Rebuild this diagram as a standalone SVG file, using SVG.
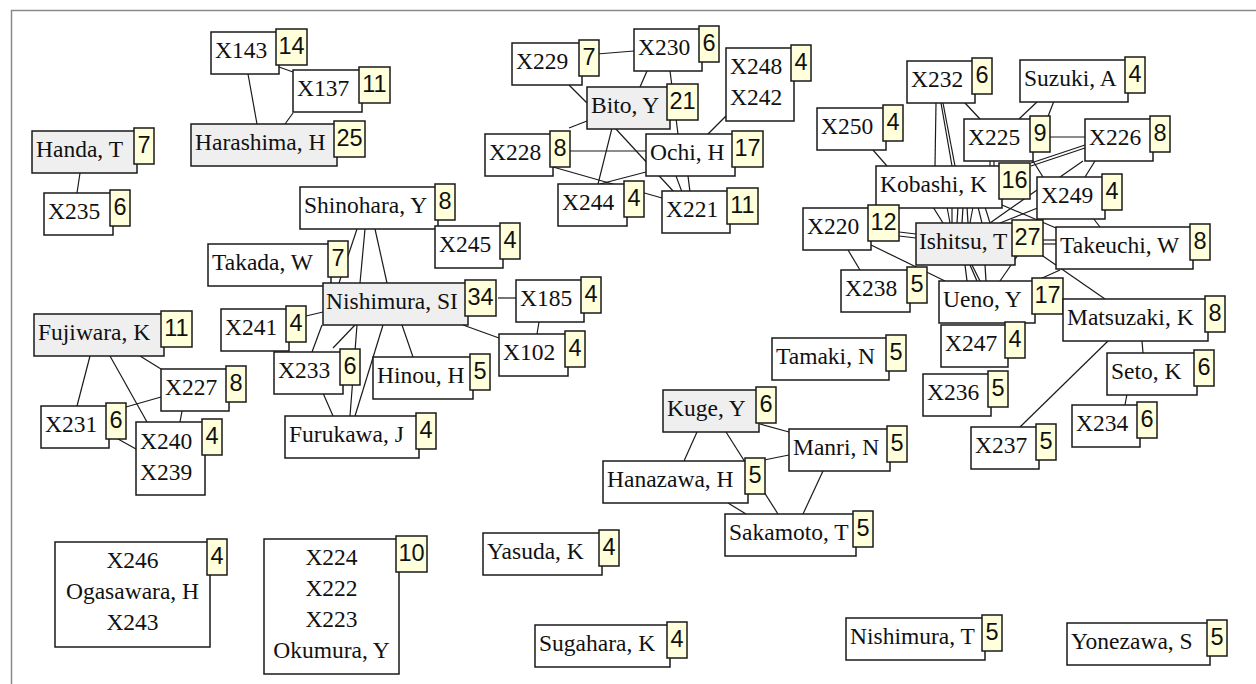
<svg xmlns="http://www.w3.org/2000/svg" width="1256" height="684" viewBox="0 0 1256 684">
<style>
  .box{fill:#ffffff;stroke:#1a1a1a;stroke-width:1.5}
  .seed{fill:#efefef;stroke:#1a1a1a;stroke-width:1.5}
  .badge{fill:#ffffdc;stroke:#1a1a1a;stroke-width:1.5}
  .lbl{font-family:"Liberation Serif","Times New Roman",serif;font-size:23.5px;fill:#111}
  .mid{text-anchor:middle}
  .cnt{font-family:"Liberation Sans",Arial,sans-serif;font-size:23.5px;fill:#111;text-anchor:middle}
  #edges line{stroke:#1a1a1a;stroke-width:1.2}
  .frame{fill:none;stroke:#8a8a8a;stroke-width:1.5}
</style>
<rect width="1256" height="684" fill="#ffffff"/>
<polyline class="frame" points="11.5,684 11.5,10.5 1256,10.5"/>

<g id="edges">
  <!-- Harashima group -->
  <line x1="248" y1="74" x2="257" y2="124"/>
  <line x1="279" y1="67" x2="293" y2="72"/>
  <line x1="293" y1="113" x2="285" y2="124"/>
  <line x1="80" y1="173" x2="77" y2="193"/>
  <!-- Nishimura, SI group -->
  <line x1="357" y1="229" x2="339" y2="283"/>
  <line x1="365" y1="229" x2="360" y2="283"/>
  <line x1="375" y1="229" x2="387" y2="283"/>
  <line x1="306" y1="316" x2="323" y2="312"/>
  <line x1="312" y1="352" x2="322" y2="325"/>
  <line x1="333" y1="348" x2="355" y2="325"/>
  <line x1="357" y1="325" x2="350" y2="416"/>
  <line x1="383" y1="325" x2="355" y2="416"/>
  <line x1="402" y1="325" x2="413" y2="357"/>
  <line x1="463" y1="325" x2="499" y2="338"/>
  <line x1="498" y1="298" x2="516" y2="298"/>
  <line x1="539" y1="322" x2="537" y2="334"/>
  <line x1="323" y1="393" x2="333" y2="416"/>
  <!-- Fujiwara group -->
  <line x1="90" y1="356" x2="77" y2="406"/>
  <line x1="110" y1="356" x2="147" y2="422"/>
  <line x1="140" y1="356" x2="161" y2="369"/>
  <line x1="161" y1="397" x2="126" y2="407"/>
  <line x1="182" y1="411" x2="180" y2="422"/>
  <line x1="118" y1="439" x2="136" y2="449"/>
  <!-- Bito group -->
  <line x1="597" y1="54" x2="634" y2="51"/>
  <line x1="569" y1="85" x2="587" y2="103"/>
  <line x1="647" y1="71" x2="640" y2="87"/>
  <line x1="670" y1="71" x2="678" y2="134"/>
  <line x1="726" y1="116" x2="708" y2="134"/>
  <line x1="569" y1="128" x2="587" y2="121"/>
  <line x1="569" y1="151" x2="646" y2="151"/>
  <line x1="612" y1="128" x2="598" y2="184"/>
  <line x1="615" y1="128" x2="674" y2="192"/>
  <line x1="600" y1="184" x2="646" y2="172"/>
  <line x1="553" y1="167" x2="662" y2="198"/>
  <line x1="676" y1="176" x2="682" y2="192"/>
  <line x1="688" y1="176" x2="690" y2="192"/>
  <!-- Kobashi / Ishitsu group -->
  <line x1="873" y1="150" x2="887" y2="166"/>
  <line x1="936" y1="103" x2="935" y2="166"/>
  <line x1="941" y1="103" x2="952" y2="166"/>
  <line x1="943" y1="103" x2="955" y2="166"/>
  <line x1="965" y1="103" x2="980" y2="119"/>
  <line x1="1038" y1="101" x2="1019" y2="119"/>
  <line x1="1054" y1="101" x2="1047" y2="119"/>
  <line x1="1049" y1="137" x2="1085" y2="137"/>
  <line x1="1085" y1="145" x2="1031" y2="163"/>
  <line x1="1085" y1="148" x2="1031" y2="166"/>
  <line x1="1083" y1="161" x2="1060" y2="177"/>
  <line x1="1095" y1="161" x2="1085" y2="177"/>
  <line x1="1033" y1="161" x2="1043" y2="177"/>
  <line x1="990" y1="161" x2="990" y2="166"/>
  <line x1="994" y1="161" x2="994" y2="166"/>
  <line x1="1037" y1="190" x2="990" y2="223"/>
  <line x1="1040" y1="207" x2="1000" y2="223"/>
  <line x1="1093" y1="218" x2="1100" y2="227"/>
  <line x1="1002" y1="205" x2="1056" y2="228"/>
  <line x1="899" y1="232" x2="916" y2="234"/>
  <line x1="899" y1="236" x2="916" y2="238"/>
  <line x1="848" y1="250" x2="860" y2="270"/>
  <line x1="871" y1="245" x2="945" y2="281"/>
  <line x1="933" y1="207" x2="943" y2="223"/>
  <line x1="947" y1="207" x2="950" y2="223"/>
  <line x1="952" y1="207" x2="952" y2="223"/>
  <line x1="958" y1="207" x2="957" y2="223"/>
  <line x1="963" y1="207" x2="962" y2="223"/>
  <line x1="967" y1="207" x2="968" y2="223"/>
  <line x1="973" y1="207" x2="970" y2="223"/>
  <line x1="978" y1="207" x2="982" y2="223"/>
  <line x1="985" y1="207" x2="990" y2="223"/>
  <line x1="1043" y1="240" x2="1056" y2="240"/>
  <line x1="1043" y1="244" x2="1056" y2="244"/>
  <line x1="1040" y1="254" x2="1105" y2="299"/>
  <line x1="965" y1="265" x2="967" y2="281"/>
  <line x1="970" y1="265" x2="977" y2="281"/>
  <line x1="972" y1="265" x2="980" y2="281"/>
  <line x1="985" y1="265" x2="986" y2="281"/>
  <line x1="1018" y1="255" x2="1000" y2="281"/>
  <line x1="1060" y1="270" x2="1040" y2="279"/>
  <line x1="1108" y1="341" x2="1020" y2="427"/>
  <line x1="1142" y1="341" x2="1143" y2="353"/>
  <line x1="1127" y1="394" x2="1125" y2="405"/>
  <!-- Kuge group -->
  <line x1="697" y1="432" x2="684" y2="461"/>
  <line x1="726" y1="432" x2="778" y2="514"/>
  <line x1="760" y1="424" x2="789" y2="432"/>
  <line x1="764" y1="460" x2="789" y2="455"/>
  <line x1="823" y1="471" x2="803" y2="514"/>
  <line x1="728" y1="503" x2="746" y2="514"/>
</g>

<g id="n-x143"><rect class="box" x="211" y="32" width="68" height="42"/><rect class="badge" x="276" y="29" width="31" height="36"/><text class="lbl" x="215" y="58">X143</text><text class="cnt" x="291.5" y="54">14</text></g>
<g id="n-x137"><rect class="box" x="293" y="70" width="69" height="42"/><rect class="badge" x="359" y="67" width="31" height="36"/><text class="lbl" x="297" y="96">X137</text><text class="cnt" x="374.5" y="92">11</text></g>
<g id="n-harashima"><rect class="seed" x="191" y="124" width="146" height="42"/><rect class="badge" x="334" y="121" width="31" height="36"/><text class="lbl" x="195" y="150">Harashima, H</text><text class="cnt" x="349.5" y="146">25</text></g>
<g id="n-handa"><rect class="seed" x="32" y="131" width="105" height="42"/><rect class="badge" x="134" y="128" width="20" height="36"/><text class="lbl" x="36" y="157">Handa, T</text><text class="cnt" x="144" y="153">7</text></g>
<g id="n-x235"><rect class="box" x="44" y="193" width="69" height="42"/><rect class="badge" x="110" y="190" width="20" height="36"/><text class="lbl" x="48" y="219">X235</text><text class="cnt" x="120" y="215">6</text></g>

<g id="n-x229"><rect class="box" x="512" y="43" width="70" height="42"/><rect class="badge" x="579" y="40" width="20" height="36"/><text class="lbl" x="516" y="69">X229</text><text class="cnt" x="589" y="65">7</text></g>
<g id="n-x230"><rect class="box" x="634" y="29" width="68" height="42"/><rect class="badge" x="699" y="26" width="20" height="36"/><text class="lbl" x="638" y="55">X230</text><text class="cnt" x="709" y="51">6</text></g>
<g id="n-bito"><rect class="seed" x="587" y="87" width="83" height="42"/><rect class="badge" x="667" y="84" width="31" height="36"/><text class="lbl" x="591" y="113">Bito, Y</text><text class="cnt" x="682.5" y="109">21</text></g>
<g id="n-x248"><rect class="box" x="726" y="48" width="68" height="73"/><rect class="badge" x="791" y="45" width="20" height="36"/><text class="lbl" x="730" y="74">X248</text><text class="lbl" x="730" y="105">X242</text><text class="cnt" x="801" y="70">4</text></g>
<g id="n-x228"><rect class="box" x="485" y="134" width="68" height="42"/><rect class="badge" x="550" y="131" width="20" height="36"/><text class="lbl" x="489" y="160">X228</text><text class="cnt" x="560" y="156">8</text></g>
<g id="n-ochi"><rect class="box" x="646" y="134" width="89" height="42"/><rect class="badge" x="732" y="131" width="31" height="36"/><text class="lbl" x="650" y="160">Ochi, H</text><text class="cnt" x="747.5" y="156">17</text></g>
<g id="n-x244"><rect class="box" x="558" y="184" width="69" height="42"/><rect class="badge" x="624" y="181" width="20" height="36"/><text class="lbl" x="562" y="210">X244</text><text class="cnt" x="634" y="206">4</text></g>
<g id="n-x221"><rect class="box" x="662" y="191" width="68" height="42"/><rect class="badge" x="727" y="188" width="31" height="36"/><text class="lbl" x="666" y="217">X221</text><text class="cnt" x="742.5" y="213">11</text></g>

<g id="n-x250"><rect class="box" x="817" y="108" width="69" height="42"/><rect class="badge" x="883" y="105" width="20" height="36"/><text class="lbl" x="821" y="134">X250</text><text class="cnt" x="893" y="130">4</text></g>
<g id="n-x232"><rect class="box" x="907" y="61" width="68" height="42"/><rect class="badge" x="972" y="58" width="20" height="36"/><text class="lbl" x="911" y="87">X232</text><text class="cnt" x="982" y="83">6</text></g>
<g id="n-suzuki"><rect class="box" x="1020" y="60" width="108" height="42"/><rect class="badge" x="1125" y="57" width="20" height="36"/><text class="lbl" x="1024" y="86">Suzuki, A</text><text class="cnt" x="1135" y="82">4</text></g>
<g id="n-x225"><rect class="box" x="964" y="119" width="69" height="42"/><rect class="badge" x="1030" y="116" width="20" height="36"/><text class="lbl" x="968" y="145">X225</text><text class="cnt" x="1040" y="141">9</text></g>
<g id="n-x226"><rect class="box" x="1085" y="119" width="68" height="42"/><rect class="badge" x="1150" y="116" width="20" height="36"/><text class="lbl" x="1089" y="145">X226</text><text class="cnt" x="1160" y="141">8</text></g>
<g id="n-kobashi"><rect class="box" x="876" y="166" width="126" height="42"/><rect class="badge" x="999" y="163" width="31" height="36"/><text class="lbl" x="880" y="192">Kobashi, K</text><text class="cnt" x="1014.5" y="188">16</text></g>
<g id="n-x249"><rect class="box" x="1037" y="177" width="68" height="42"/><rect class="badge" x="1102" y="174" width="20" height="36"/><text class="lbl" x="1041" y="203">X249</text><text class="cnt" x="1112" y="199">4</text></g>
<g id="n-x220"><rect class="box" x="803" y="208" width="68" height="42"/><rect class="badge" x="868" y="205" width="31" height="36"/><text class="lbl" x="807" y="234">X220</text><text class="cnt" x="883.5" y="230">12</text></g>
<g id="n-ishitsu"><rect class="seed" x="916" y="223" width="99" height="42"/><rect class="badge" x="1012" y="220" width="31" height="36"/><text class="lbl" x="919" y="249">Ishitsu, T</text><text class="cnt" x="1027.5" y="245">27</text></g>
<g id="n-takeuchi"><rect class="box" x="1056" y="227" width="137" height="42"/><rect class="badge" x="1190" y="224" width="20" height="36"/><text class="lbl" x="1060" y="253">Takeuchi, W</text><text class="cnt" x="1200" y="249">8</text></g>
<g id="n-x238"><rect class="box" x="841" y="270" width="69" height="42"/><rect class="badge" x="907" y="267" width="20" height="36"/><text class="lbl" x="845" y="296">X238</text><text class="cnt" x="917" y="292">5</text></g>
<g id="n-ueno"><rect class="box" x="939" y="281" width="96" height="42"/><rect class="badge" x="1032" y="278" width="31" height="36"/><text class="lbl" x="943" y="307">Ueno, Y</text><text class="cnt" x="1047.5" y="303">17</text></g>
<g id="n-matsuzaki"><rect class="box" x="1063" y="299" width="145" height="42"/><rect class="badge" x="1205" y="296" width="20" height="36"/><text class="lbl" x="1067" y="325">Matsuzaki, K</text><text class="cnt" x="1215" y="321">8</text></g>
<g id="n-x247"><rect class="box" x="941" y="325" width="67" height="42"/><rect class="badge" x="1005" y="322" width="20" height="36"/><text class="lbl" x="945" y="351">X247</text><text class="cnt" x="1015" y="347">4</text></g>
<g id="n-x236"><rect class="box" x="923" y="374" width="68" height="42"/><rect class="badge" x="988" y="371" width="20" height="36"/><text class="lbl" x="927" y="400">X236</text><text class="cnt" x="998" y="396">5</text></g>
<g id="n-seto"><rect class="box" x="1107" y="353" width="90" height="42"/><rect class="badge" x="1194" y="350" width="20" height="36"/><text class="lbl" x="1111" y="379">Seto, K</text><text class="cnt" x="1204" y="375">6</text></g>
<g id="n-x234"><rect class="box" x="1072" y="405" width="68" height="42"/><rect class="badge" x="1137" y="402" width="20" height="36"/><text class="lbl" x="1076" y="431">X234</text><text class="cnt" x="1147" y="427">6</text></g>
<g id="n-x237"><rect class="box" x="971" y="427" width="68" height="42"/><rect class="badge" x="1036" y="424" width="20" height="36"/><text class="lbl" x="975" y="453">X237</text><text class="cnt" x="1046" y="449">5</text></g>

<g id="n-tamaki"><rect class="box" x="772" y="338" width="117" height="42"/><rect class="badge" x="886" y="335" width="20" height="36"/><text class="lbl" x="776" y="364">Tamaki, N</text><text class="cnt" x="896" y="360">5</text></g>
<g id="n-kuge"><rect class="seed" x="663" y="390" width="96" height="42"/><rect class="badge" x="756" y="387" width="20" height="36"/><text class="lbl" x="667" y="416">Kuge, Y</text><text class="cnt" x="766" y="412">6</text></g>
<g id="n-manri"><rect class="box" x="789" y="429" width="101" height="42"/><rect class="badge" x="887" y="426" width="20" height="36"/><text class="lbl" x="793" y="455">Manri, N</text><text class="cnt" x="897" y="451">5</text></g>
<g id="n-hanazawa"><rect class="box" x="603" y="461" width="145" height="42"/><rect class="badge" x="745" y="458" width="20" height="36"/><text class="lbl" x="607" y="487">Hanazawa, H</text><text class="cnt" x="755" y="483">5</text></g>
<g id="n-sakamoto"><rect class="box" x="725" y="514" width="131" height="42"/><rect class="badge" x="853" y="511" width="20" height="36"/><text class="lbl" x="729" y="540">Sakamoto, T</text><text class="cnt" x="863" y="536">5</text></g>
<g id="n-yasuda"><rect class="box" x="483" y="533" width="119" height="42"/><rect class="badge" x="599" y="530" width="20" height="36"/><text class="lbl" x="487" y="559">Yasuda, K</text><text class="cnt" x="609" y="555">4</text></g>
<g id="n-sugahara"><rect class="box" x="535" y="625" width="135" height="42"/><rect class="badge" x="667" y="622" width="20" height="36"/><text class="lbl" x="539" y="651">Sugahara, K</text><text class="cnt" x="677" y="647">4</text></g>
<g id="n-nishimura-t"><rect class="box" x="846" y="618" width="139" height="42"/><rect class="badge" x="982" y="615" width="20" height="36"/><text class="lbl" x="850" y="644">Nishimura, T</text><text class="cnt" x="992" y="640">5</text></g>
<g id="n-yonezawa"><rect class="box" x="1067" y="623" width="143" height="42"/><rect class="badge" x="1207" y="620" width="20" height="36"/><text class="lbl" x="1071" y="649">Yonezawa, S</text><text class="cnt" x="1217" y="645">5</text></g>
<g id="n-ogasawara"><rect class="box" x="55" y="542" width="155" height="105"/><rect class="badge" x="207" y="539" width="20" height="36"/><text class="lbl mid" x="132.5" y="568">X246</text><text class="lbl mid" x="132.5" y="599">Ogasawara, H</text><text class="lbl mid" x="132.5" y="630">X243</text><text class="cnt" x="217" y="564">4</text></g>
<g id="n-okumura"><rect class="box" x="264" y="539" width="135" height="135"/><rect class="badge" x="396" y="536" width="31" height="36"/><text class="lbl mid" x="331.5" y="565">X224</text><text class="lbl mid" x="331.5" y="596">X222</text><text class="lbl mid" x="331.5" y="627">X223</text><text class="lbl mid" x="331.5" y="658">Okumura, Y</text><text class="cnt" x="411.5" y="561">10</text></g>

<g id="n-shinohara"><rect class="box" x="300" y="187" width="138" height="42"/><rect class="badge" x="435" y="184" width="20" height="36"/><text class="lbl" x="304" y="213">Shinohara, Y</text><text class="cnt" x="445" y="209">8</text></g>
<g id="n-x245"><rect class="box" x="435" y="226" width="68" height="42"/><rect class="badge" x="500" y="223" width="20" height="36"/><text class="lbl" x="439" y="252">X245</text><text class="cnt" x="510" y="248">4</text></g>
<g id="n-takada"><rect class="box" x="208" y="244" width="123" height="42"/><rect class="badge" x="328" y="241" width="20" height="36"/><text class="lbl" x="212" y="270">Takada, W</text><text class="cnt" x="338" y="266">7</text></g>
<g id="n-nishimura-si"><rect class="seed" x="323" y="283" width="145" height="42"/><rect class="badge" x="465" y="280" width="31" height="36"/><text class="lbl" x="326" y="309">Nishimura, SI</text><text class="cnt" x="480.5" y="305">34</text></g>
<g id="n-x185"><rect class="box" x="516" y="280" width="68" height="42"/><rect class="badge" x="581" y="277" width="20" height="36"/><text class="lbl" x="520" y="306">X185</text><text class="cnt" x="591" y="302">4</text></g>
<g id="n-x102"><rect class="box" x="499" y="334" width="69" height="42"/><rect class="badge" x="565" y="331" width="20" height="36"/><text class="lbl" x="503" y="360">X102</text><text class="cnt" x="575" y="356">4</text></g>
<g id="n-hinou"><rect class="box" x="373" y="357" width="100" height="42"/><rect class="badge" x="470" y="354" width="20" height="36"/><text class="lbl" x="377" y="383">Hinou, H</text><text class="cnt" x="480" y="379">5</text></g>
<g id="n-x241"><rect class="box" x="221" y="309" width="68" height="42"/><rect class="badge" x="286" y="306" width="20" height="36"/><text class="lbl" x="225" y="335">X241</text><text class="cnt" x="296" y="331">4</text></g>
<g id="n-x233"><rect class="box" x="274" y="352" width="69" height="42"/><rect class="badge" x="340" y="349" width="20" height="36"/><text class="lbl" x="278" y="378">X233</text><text class="cnt" x="350" y="374">6</text></g>
<g id="n-furukawa"><rect class="box" x="285" y="416" width="134" height="42"/><rect class="badge" x="416" y="413" width="20" height="36"/><text class="lbl" x="289" y="442">Furukawa, J</text><text class="cnt" x="426" y="438">4</text></g>

<g id="n-fujiwara"><rect class="seed" x="34" y="314" width="130" height="42"/><rect class="badge" x="161" y="311" width="31" height="36"/><text class="lbl" x="38" y="340">Fujiwara, K</text><text class="cnt" x="176.5" y="336">11</text></g>
<g id="n-x227"><rect class="box" x="161" y="369" width="68" height="42"/><rect class="badge" x="226" y="366" width="20" height="36"/><text class="lbl" x="165" y="395">X227</text><text class="cnt" x="236" y="391">8</text></g>
<g id="n-x231"><rect class="box" x="41" y="406" width="68" height="42"/><rect class="badge" x="106" y="403" width="20" height="36"/><text class="lbl" x="45" y="432">X231</text><text class="cnt" x="116" y="428">6</text></g>
<g id="n-x240"><rect class="box" x="136" y="422" width="69" height="73"/><rect class="badge" x="202" y="419" width="20" height="36"/><text class="lbl" x="140" y="449">X240</text><text class="lbl" x="140" y="480">X239</text><text class="cnt" x="212" y="444">4</text></g>
</svg>
